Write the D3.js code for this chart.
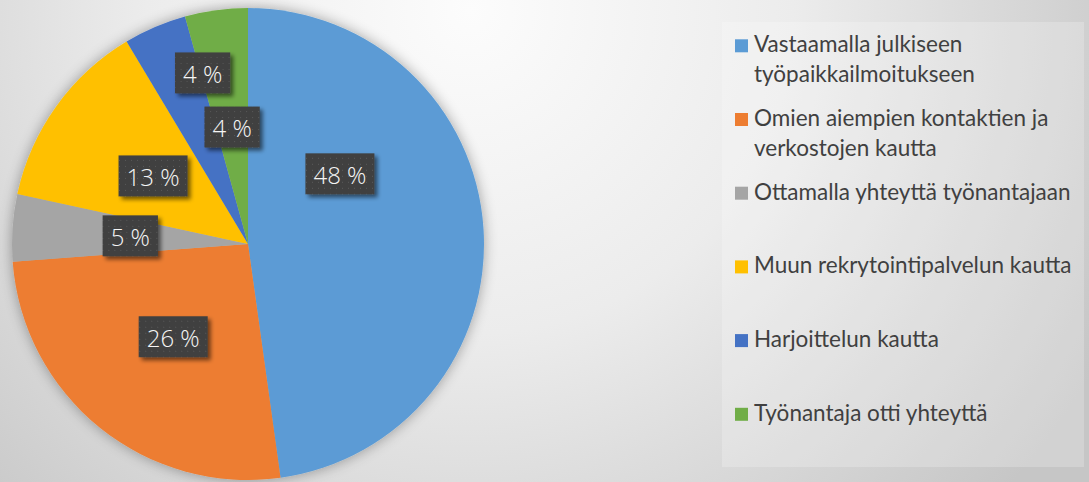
<!DOCTYPE html>
<html>
<head>
<meta charset="utf-8">
<script src="https://cdn.jsdelivr.net/npm/d3@7"></script>
<style>
  html, body { margin: 0; padding: 0; background: #e8e8e8; }
  svg { display: block; }
</style>
</head>
<body>
<svg id="chart" width="1089" height="482"></svg>
<script>
// ---- data ----
const categories = [
  "Vastaamalla julkiseen työpaikkailmoitukseen",
  "Omien aiempien kontaktien ja verkostojen kautta",
  "Ottamalla yhteyttä työnantajaan",
  "Muun rekrytointipalvelun kautta",
  "Harjoittelun kautta",
  "Työnantaja otti yhteyttä"
];
const values = [47.8, 26.0, 4.6, 13.0, 4.3, 4.3];
const legendLines = [
  ["Vastaamalla julkiseen", "työpaikkailmoitukseen"],
  ["Omien aiempien kontaktien ja", "verkostojen kautta"],
  ["Ottamalla yhteyttä työnantajaan"],
  ["Muun rekrytointipalvelun kautta"],
  ["Harjoittelun kautta"],
  ["Työnantaja otti yhteyttä"]
];
const colors = ["#5B9BD5", "#ED7D31", "#A5A5A5", "#FFC000", "#4472C4", "#70AD47"];
// label placement inside each slice: fraction along slice angle, fraction of radius
const labelPlacement = [
  { t: 0.306, r: 0.49 },
  { t: 0.5, r: 0.505 },
  { t: 0.5, r: 0.5 },
  { t: 0.5, r: 0.495 },
  { t: 1.04, r: 0.75 },
  { t: 0.5, r: 0.5 }
];

// ---- layout ----
const W = 1089, H = 482;
const cx = 248, cy = 244, R = 236;
const svg = d3.select("#chart");
const defs = svg.append("defs");

// background gradient
const bg = defs.append("radialGradient").attr("id", "bgGrad")
  .attr("gradientUnits", "userSpaceOnUse")
  .attr("cx", 470).attr("cy", 10).attr("r", 720);
bg.append("stop").attr("offset", 0).attr("stop-color", "#fcfcfc");
bg.append("stop").attr("offset", 0.45).attr("stop-color", "#ececec");
bg.append("stop").attr("offset", 1).attr("stop-color", "#c6c6c6");
svg.append("rect").attr("width", W).attr("height", H).attr("fill", "url(#bgGrad)");

// pie shadow
const pieShadow = defs.append("filter").attr("id", "pieShadow")
  .attr("x", "-20%").attr("y", "-20%").attr("width", "140%").attr("height", "140%");
pieShadow.append("feGaussianBlur").attr("in", "SourceAlpha").attr("stdDeviation", 7).attr("result", "b");
pieShadow.append("feComponentTransfer").attr("in", "b").attr("result", "b2")
  .append("feFuncA").attr("type", "linear").attr("slope", 0.35);
const pm = pieShadow.append("feMerge");
pm.append("feMergeNode").attr("in", "b2");
pm.append("feMergeNode").attr("in", "SourceGraphic");

// label box shadow
const boxShadow = defs.append("filter").attr("id", "boxShadow")
  .attr("x", "-30%").attr("y", "-30%").attr("width", "170%").attr("height", "170%");
boxShadow.append("feGaussianBlur").attr("in", "SourceAlpha").attr("stdDeviation", 2).attr("result", "b");
boxShadow.append("feOffset").attr("in", "b").attr("dx", 3).attr("dy", 3).attr("result", "o");
boxShadow.append("feComponentTransfer").attr("in", "o").attr("result", "o2")
  .append("feFuncA").attr("type", "linear").attr("slope", 0.55);
const bm = boxShadow.append("feMerge");
bm.append("feMergeNode").attr("in", "o2");
bm.append("feMergeNode").attr("in", "SourceGraphic");

// dotted pattern for label boxes
const pat = defs.append("pattern").attr("id", "dots")
  .attr("patternUnits", "userSpaceOnUse").attr("width", 6).attr("height", 6);
pat.append("rect").attr("width", 6).attr("height", 6).attr("fill", "#404040");
pat.append("rect").attr("x", 2).attr("y", 2).attr("width", 1).attr("height", 1).attr("fill", "#5a5a5a");

// ---- pie ----
const pie = d3.pie().sort(null).value(d => d);
const arcs = pie(values);
const arc = d3.arc().innerRadius(0).outerRadius(R);
const color = d3.scaleOrdinal().domain(d3.range(values.length)).range(colors);

const g = svg.append("g").attr("transform", `translate(${cx},${cy})`);
g.append("g").attr("filter", "url(#pieShadow)")
  .selectAll("path").data(arcs).join("path")
  .attr("d", arc)
  .attr("fill", (d, i) => color(i));

// ---- labels ----
const total = d3.sum(values);
const fmt = v => Math.round(v / total * 100) + " %";
const lbl = g.append("g");
arcs.forEach((d, i) => {
  const p = labelPlacement[i];
  const a = d.startAngle + (d.endAngle - d.startAngle) * p.t;
  const r = R * p.r;
  const x = r * Math.sin(a), y = -r * Math.cos(a);
  const grp = lbl.append("g").attr("transform", `translate(${x},${y})`);
  const rect = grp.append("rect").attr("fill", "url(#dots)").attr("filter", "url(#boxShadow)");
  const t = grp.append("text")
    .attr("text-anchor", "middle")
    .attr("dy", "0.41em")
    .attr("fill", "#f5f5f5")
    .style("font-family", "'Open Sans', sans-serif")
    .style("font-weight", 300)
    .style("font-size", "24px")
    .text(fmt(values[i]));
  const w = t.node().getComputedTextLength() + 16;
  const h = 41;
  rect.attr("x", -w / 2).attr("y", -h / 2).attr("width", w).attr("height", h);
});

// ---- legend ----
const legendBox = { x: 722, y: 22, w: 362, h: 445 };
svg.append("rect")
  .attr("x", legendBox.x).attr("y", legendBox.y)
  .attr("width", legendBox.w).attr("height", legendBox.h)
  .attr("fill", "#ffffff").attr("fill-opacity", 0.22);

const ly = d3.scalePoint().domain(d3.range(categories.length)).range([52.3, 420.8]);
const leg = svg.append("g");
categories.forEach((c, i) => {
  const y0 = ly(i);
  leg.append("rect")
    .attr("x", 735).attr("y", y0 - 13)
    .attr("width", 13).attr("height", 13)
    .attr("fill", color(i));
  const t = leg.append("text")
    .attr("x", 754).attr("y", y0)
    .attr("fill", "#404040")
    .style("font-family", "Lato, sans-serif")
    .style("font-size", "22.5px");
  legendLines[i].forEach((ln, j) => {
    t.append("tspan").attr("x", 754).attr("y", y0 + j * 29.7).text(ln);
  });
});
</script>
</body>
</html>
